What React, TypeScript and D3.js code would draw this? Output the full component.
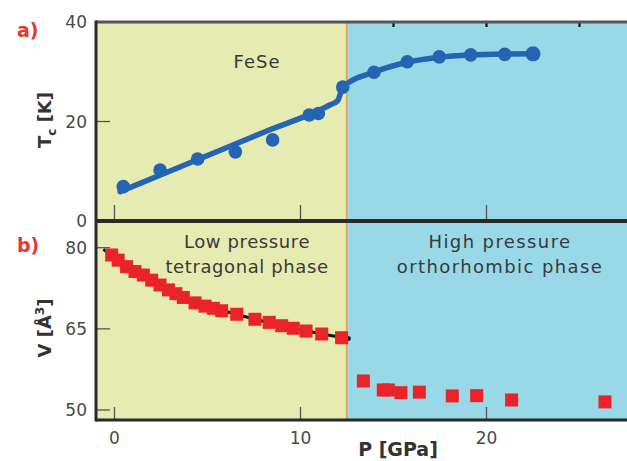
import React from "react";
import * as d3 from "d3";

// Tc(P) measurements, panel a
const tcPressure = [0.47, 2.45, 4.47, 6.5, 8.5, 10.47, 10.96, 12.27, 13.95, 15.74, 17.46, 19.15, 20.98, 22.5];
const tcValues = [6.9, 10.25, 12.46, 13.9, 16.3, 21.3, 21.6, 26.9, 29.9, 32.0, 33.0, 33.4, 33.5, 33.6];
// guide-to-the-eye line through Tc
const tcFitPressure = [0.3, 4.0, 8.0, 11.6, 12.0, 12.27, 13.95, 15.74, 17.46, 19.15, 20.98, 22.5];
const tcFitValues = [5.9, 11.62, 17.8, 23.36, 24.2, 26.9, 29.9, 31.9, 32.9, 33.35, 33.55, 33.6];

// unit-cell volume, panel b
const volLowPressure = [-0.15, 0.2, 0.65, 1.1, 1.55, 2.0, 2.45, 2.9, 3.3, 3.7, 4.33, 4.87, 5.31, 5.76, 6.57, 7.55, 8.32, 8.99, 9.61, 10.3, 11.14, 12.21];
const volLowValues = [78.65, 77.7, 76.5, 75.6, 74.95, 74.0, 73.1, 72.2, 71.5, 70.8, 69.8, 69.2, 68.8, 68.35, 67.7, 66.77, 66.2, 65.58, 65.1, 64.6, 64.05, 63.36];
const volHighPressure = [13.38, 14.45, 14.72, 15.4, 16.39, 18.16, 19.47, 21.35, 26.37];
const volHighValues = [55.36, 53.7, 53.7, 53.2, 53.3, 52.6, 52.65, 51.85, 51.5];
// equation-of-state fit for the tetragonal phase
const eosFitPressure = [-0.6, 0.65, 2.0, 4.0, 6.0, 8.0, 10.0, 12.57];
const eosFitValues = [79.7, 76.6, 74.0, 70.3, 68.2, 66.4, 64.85, 63.2];

const phaseBoundary = 12.48;

const xTicks = [0, 10, 20];
const xTopTicks = [15, 20, 25];
const tcTicks = [0, 20, 40];
const volTicks = [50, 65, 80];

const FONT = "'DejaVu Sans', sans-serif";
const YELLOW = "#e6ebb1";
const BLUE = "#99d8e6";
const FRAME = "#2a2a2a";
const TICK_TXT = "#4a4a4a";
const LABEL_TXT = "#3a3a3a";
const RED = "#ea2328";
const TC_BLUE = "#2464b4";

export default function App() {
  const W = 627;
  const H = 461;
  const left = 96;
  const right = 632;
  const topA = 22;
  const mid = 221;
  const botB = 420;

  const x = d3.scaleLinear().domain([0, 20]).range([114.5, 486.5]);
  const yA = d3.scaleLinear().domain([0, 40]).range([mid, topA]);
  const yB = d3.scaleLinear().domain([50, 80]).range([410, 247.7]);

  const xb = x(phaseBoundary);

  const tcLine = d3
    .line<number>()
    .x((_, i) => x(tcFitPressure[i]))
    .y((v) => yA(v))
    .curve(d3.curveMonotoneX)(tcFitValues) as string;

  const eosLine = d3
    .line<number>()
    .x((_, i) => x(eosFitPressure[i]))
    .y((v) => yB(v))
    .curve(d3.curveMonotoneX)(eosFitValues) as string;

  const sq = 13;

  return (
    <svg
      width={W}
      height={H}
      style={{ position: "absolute", left: 0, top: 0, background: "#fff" }}
      fontFamily={FONT}
    >
      {/* phase backgrounds */}
      <rect x={left} y={topA} width={xb - left} height={botB - topA} fill={YELLOW} />
      <rect x={xb} y={topA} width={right - xb} height={botB - topA} fill={BLUE} />
      <line x1={xb} x2={xb} y1={topA} y2={botB} stroke="#e9a14e" strokeWidth={1.6} />

      {/* panel a ticks */}
      {tcTicks.map((t) => (
        <g key={"ta" + t}>
          {t !== 0 && t !== 40 && (
            <line x1={left} x2={left + 14} y1={yA(t)} y2={yA(t)} stroke="#555" strokeWidth={1.3} />
          )}
          <text x={87} y={yA(t)} dy="0.36em" textAnchor="end" fontSize={17} fill={TICK_TXT}>
            {t}
          </text>
        </g>
      ))}
      {xTicks.map((t) => (
        <line key={"xa" + t} x1={x(t)} x2={x(t)} y1={mid - 16} y2={mid} stroke="#555" strokeWidth={1.3} />
      ))}
      {xTopTicks.map((t) => (
        <line key={"xt" + t} x1={x(t)} x2={x(t)} y1={topA} y2={topA + 5} stroke="#111" strokeWidth={2.2} />
      ))}

      {/* panel b ticks */}
      {volTicks.map((t) => (
        <g key={"tb" + t}>
          <line x1={left} x2={left + 14} y1={yB(t)} y2={yB(t)} stroke="#555" strokeWidth={1.3} />
          <text x={87} y={yB(t)} dy="0.36em" textAnchor="end" fontSize={17} fill={TICK_TXT}>
            {t}
          </text>
        </g>
      ))}
      {xTicks.map((t) => (
        <g key={"xb" + t}>
          <line x1={x(t)} x2={x(t)} y1={botB - 13} y2={botB} stroke="#555" strokeWidth={1.3} />
          <text x={x(t)} y={444} textAnchor="middle" fontSize={17} fill={TICK_TXT}>
            {t}
          </text>
        </g>
      ))}

      {/* panel a: Tc */}
      <path d={tcLine} fill="none" stroke={TC_BLUE} strokeWidth={5.5} strokeLinecap="round" strokeLinejoin="round" />
      {tcValues.map((v, i) => (
        <circle key={"tc" + i} cx={x(tcPressure[i])} cy={yA(v)} r={i === tcValues.length - 1 ? 7.5 : 6.8} fill={TC_BLUE} />
      ))}

      {/* panel b: volume */}
      <path d={eosLine} fill="none" stroke="#111" strokeWidth={3} />
      <circle cx={x(eosFitPressure[eosFitPressure.length - 1])} cy={yB(eosFitValues[eosFitValues.length - 1])} r={2.5} fill="#111" />
      {volLowValues.map((v, i) => (
        <rect key={"vl" + i} x={x(volLowPressure[i]) - sq / 2} y={yB(v) - sq / 2} width={sq} height={sq} fill={RED} />
      ))}
      {volHighValues.map((v, i) => (
        <rect key={"vh" + i} x={x(volHighPressure[i]) - sq / 2} y={yB(v) - sq / 2} width={sq} height={sq} fill={RED} />
      ))}

      {/* frames */}
      <line x1={left} x2={right} y1={topA} y2={topA} stroke="#555" strokeWidth={3} />
      <line x1={left} x2={right} y1={mid} y2={mid} stroke={FRAME} strokeWidth={4} />
      <line x1={left} x2={right} y1={botB} y2={botB} stroke={FRAME} strokeWidth={3} />
      <line x1={left} x2={left} y1={topA - 1.5} y2={botB + 1.5} stroke={FRAME} strokeWidth={3} />

      {/* annotations */}
      <text x={257} y={68} textAnchor="middle" fontSize={18} letterSpacing={1} fill={LABEL_TXT}>
        FeSe
      </text>
      <text x={247} y={248} textAnchor="middle" fontSize={18} letterSpacing={0.6} fill={LABEL_TXT}>
        Low pressure
      </text>
      <text x={247} y={273} textAnchor="middle" fontSize={18} letterSpacing={0.6} fill={LABEL_TXT}>
        tetragonal phase
      </text>
      <text x={500} y={248} textAnchor="middle" fontSize={18} letterSpacing={1.4} fill={LABEL_TXT}>
        High pressure
      </text>
      <text x={500} y={273} textAnchor="middle" fontSize={18} letterSpacing={1.4} fill={LABEL_TXT}>
        orthorhombic phase
      </text>

      {/* panel letters */}
      <text x={17} y={37} fontSize={19} fontWeight="bold" fill="#e8382e">
        a)
      </text>
      <text x={17} y={252} fontSize={19} fontWeight="bold" fill="#e8382e">
        b)
      </text>

      {/* axis titles */}
      <text
        transform="translate(51,120) rotate(-90)"
        textAnchor="middle"
        fontSize={18}
        fontWeight="bold"
        fill="#333"
      >
        T<tspan fontSize={12} dy={5}>c</tspan>
        <tspan dy={-5}> [K]</tspan>
      </text>
      <text
        transform="translate(51,328) rotate(-90)"
        textAnchor="middle"
        fontSize={18}
        fontWeight="bold"
        fill="#333"
      >
        V [Å<tspan fontSize={12} dy={-7}>3</tspan>
        <tspan dy={7}>]</tspan>
      </text>
      <text x={398} y={456} textAnchor="middle" fontSize={19} fontWeight="bold" fill="#333">
        P [GPa]
      </text>
    </svg>
  );
}
